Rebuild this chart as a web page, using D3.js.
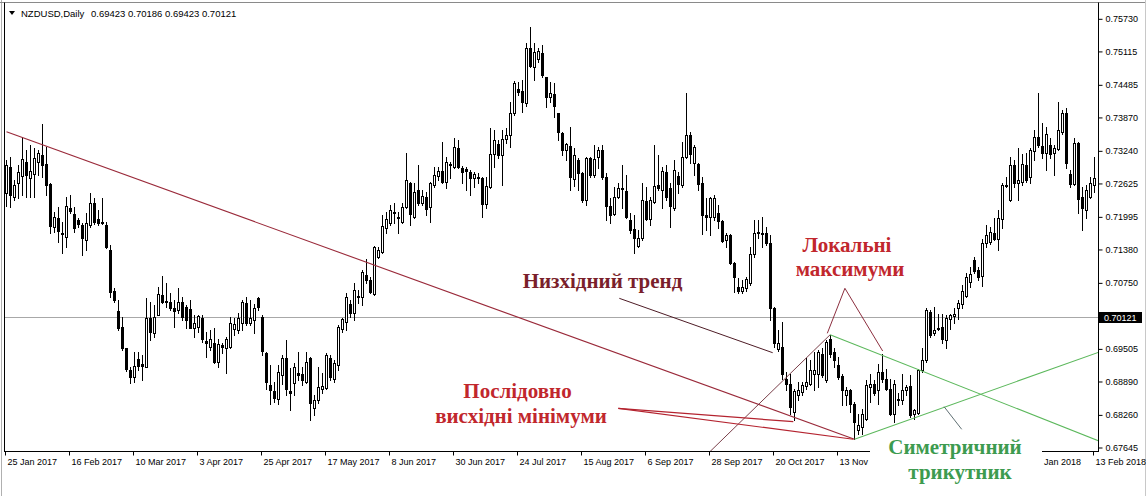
<!DOCTYPE html>
<html><head><meta charset="utf-8">
<script src="https://cdn.jsdelivr.net/npm/d3@7"></script>
<style>html,body{margin:0;padding:0;background:#fff;} svg{display:block}</style>
</head><body>
<svg id="c" width="1146" height="496"></svg>
<script>
// ---------------- data ----------------
const symbolName = "NZDUSD,Daily";
const headerValues = "0.69423 0.70186 0.69423 0.70121";
const lastPrice = 0.70121;

const openV = [
0.72447,0.72950,0.72384,0.72636,0.72774,0.73044,0.72742,0.72812,0.73044,0.73170,
0.73000,0.72617,0.71818,0.71975,0.71705,0.71617,0.72176,0.72051,0.71944,0.71849,
0.71566,0.71849,0.72258,0.71969,0.71912,0.71849,0.71378,0.70604,0.70226,0.69918,
0.69522,0.69113,0.68975,0.69321,0.69220,0.69176,0.70088,0.69818,0.70151,0.70528,
0.70415,0.70390,0.70277,0.70245,0.70403,0.70308,0.70258,0.69912,0.69931,0.70088,
0.69667,0.69553,0.69629,0.69270,0.69585,0.69522,0.69553,0.69880,0.69868,0.69994,
0.70371,0.69994,0.70057,0.70466,0.70119,0.69446,0.68830,0.68717,0.68578,0.69019,
0.69333,0.68724,0.68862,0.69063,0.69038,0.68893,0.69334,0.68390,0.68548,0.68749,
0.68768,0.69346,0.68937,0.69208,0.69881,0.70025,0.70359,0.70195,0.70510,0.70497,
0.70906,0.70812,0.70541,0.71239,0.71345,0.71786,0.71881,0.72088,0.71994,0.71912,
0.72195,0.72636,0.72007,0.72510,0.72258,0.72372,0.72183,0.72604,0.72774,0.72874,
0.72654,0.73000,0.72938,0.73296,0.72919,0.72906,0.72856,0.72743,0.72749,0.72730,
0.72245,0.72573,0.73189,0.73378,0.73170,0.73466,0.73548,0.73969,0.74416,0.74384,
0.74158,0.75183,0.74837,0.74976,0.75089,0.74636,0.74259,0.74322,0.73956,0.73592,
0.73264,0.73346,0.72711,0.73075,0.72836,0.72321,0.73107,0.72792,0.73126,0.73264,
0.72761,0.72207,0.72050,0.72384,0.72522,0.72490,0.71943,0.71767,0.71459,0.71597,
0.72302,0.71956,0.72289,0.72604,0.72509,0.72849,0.72541,0.72163,0.72779,0.72604,
0.73126,0.73547,0.73025,0.72999,0.72635,0.72037,0.71993,0.71993,0.72069,0.71930,
0.71566,0.71660,0.71126,0.70673,0.70610,0.70654,0.70748,0.71302,0.71723,0.71704,
0.71692,0.71503,0.70276,0.69503,0.69553,0.68955,0.68861,0.68327,0.68641,0.68704,
0.68811,0.68861,0.69038,0.69050,0.69427,0.68924,0.69710,0.69459,0.69207,0.68999,
0.68641,0.68748,0.68484,0.67993,0.68043,0.68201,0.68786,0.68861,0.68748,0.69081,
0.68955,0.68767,0.68295,0.68547,0.68547,0.68735,0.68811,0.68295,0.68306,0.69113,
0.69301,0.70213,0.69805,0.69917,0.69930,0.69679,0.70087,0.70137,0.70294,0.70370,
0.70509,0.70779,0.71188,0.70999,0.70886,0.71503,0.71534,0.71704,0.71578,0.71955,
0.72603,0.72321,0.72981,0.72635,0.72667,0.72981,0.72761,0.73251,0.73503,0.73339,
0.73201,0.73358,0.73201,0.73276,0.73610,0.73956,0.72805,0.72622,0.73402,0.72371,
0.72132,0.72384,0.72603];

const highV = [
0.73076,0.73139,0.72698,0.72981,0.73504,0.73265,0.73359,0.73296,0.73265,0.73755,
0.73327,0.72636,0.72101,0.72195,0.71912,0.72384,0.72415,0.72195,0.71975,0.71881,
0.72069,0.72447,0.72352,0.72132,0.72352,0.71912,0.71472,0.70654,0.70434,0.70119,
0.69522,0.69176,0.69459,0.69459,0.69396,0.70466,0.70403,0.70340,0.70686,0.70887,
0.70761,0.70560,0.70434,0.70654,0.70497,0.70340,0.70434,0.70151,0.70151,0.70151,
0.69836,0.69868,0.69899,0.69710,0.69616,0.69742,0.70119,0.70088,0.70182,0.70434,
0.70497,0.70434,0.70359,0.70497,0.70151,0.69459,0.69207,0.68893,0.69207,0.69396,
0.69679,0.69145,0.69239,0.69460,0.69177,0.69460,0.69365,0.68642,0.69177,0.69051,
0.69428,0.69397,0.69302,0.69963,0.70088,0.70560,0.70434,0.70749,0.70623,0.71000,
0.71202,0.70875,0.71453,0.71440,0.72038,0.72101,0.72226,0.72258,0.72101,0.72258,
0.73202,0.72667,0.72636,0.72982,0.72510,0.72479,0.72667,0.72950,0.72950,0.73422,
0.73138,0.73044,0.73485,0.73453,0.72963,0.72950,0.72887,0.72856,0.72824,0.72761,
0.72761,0.73673,0.73642,0.73453,0.73642,0.73673,0.74177,0.74573,0.74554,0.74586,
0.75278,0.75592,0.75278,0.75183,0.75246,0.74649,0.74554,0.74523,0.73969,0.73610,
0.73390,0.73704,0.73296,0.73107,0.72855,0.73138,0.73138,0.73358,0.73327,0.73358,
0.72824,0.72352,0.72572,0.72635,0.72981,0.72792,0.72069,0.72037,0.71755,0.72635,
0.72572,0.72384,0.73358,0.73170,0.72950,0.72981,0.72635,0.73075,0.72855,0.73421,
0.74333,0.73610,0.73358,0.73012,0.72761,0.72352,0.72384,0.72415,0.72226,0.71943,
0.71692,0.71679,0.71157,0.70843,0.70811,0.70874,0.71440,0.71943,0.71943,0.72006,
0.71817,0.71660,0.70308,0.69867,0.70025,0.69081,0.69050,0.68767,0.68893,0.68893,
0.69333,0.69302,0.69459,0.69490,0.69522,0.69679,0.69773,0.69522,0.69364,0.69050,
0.68798,0.68767,0.68515,0.68295,0.68389,0.68924,0.69050,0.68924,0.69238,0.69427,
0.69144,0.68955,0.68924,0.68673,0.69050,0.68830,0.69018,0.68389,0.69144,0.69522,
0.70276,0.70245,0.70308,0.70181,0.70181,0.70150,0.70181,0.70276,0.70432,0.70717,
0.70949,0.71062,0.71251,0.71062,0.71578,0.71849,0.71817,0.71974,0.72132,0.72635,
0.72761,0.73138,0.73075,0.73296,0.73189,0.73201,0.73296,0.73641,0.74346,0.73767,
0.73704,0.73484,0.73358,0.74176,0.74019,0.74050,0.72886,0.73484,0.73421,0.72572,
0.72603,0.72748,0.73126];

const lowV = [
0.72208,0.72195,0.72321,0.72352,0.72415,0.72384,0.72384,0.72384,0.72793,0.72761,
0.72415,0.71705,0.71724,0.71535,0.71327,0.71440,0.72082,0.71724,0.71818,0.71283,
0.71378,0.71818,0.71868,0.71849,0.71868,0.71409,0.70497,0.70403,0.69868,0.69490,
0.69101,0.68874,0.68893,0.69113,0.68924,0.69176,0.69679,0.69742,0.70151,0.70371,
0.70308,0.70245,0.69931,0.70182,0.70057,0.69899,0.69899,0.69742,0.69836,0.69648,
0.69365,0.69490,0.69239,0.69176,0.69428,0.69063,0.69522,0.69774,0.69805,0.69868,
0.69962,0.69962,0.69805,0.70245,0.69396,0.68767,0.68472,0.68516,0.68484,0.68861,
0.68641,0.68359,0.68642,0.68925,0.68830,0.68862,0.68170,0.68264,0.68485,0.68673,
0.68749,0.68925,0.68893,0.69114,0.69837,0.69868,0.70120,0.70057,0.70371,0.70340,
0.70749,0.70560,0.70529,0.71220,0.71314,0.71692,0.71849,0.71881,0.71692,0.71881,
0.72164,0.71849,0.71975,0.72227,0.72227,0.72038,0.71912,0.72573,0.72699,0.72636,
0.72541,0.72730,0.72919,0.72919,0.72636,0.72510,0.72416,0.72573,0.72636,0.72007,
0.72164,0.72541,0.72950,0.73107,0.72604,0.73391,0.73328,0.73925,0.74303,0.73988,
0.74095,0.74837,0.74586,0.74932,0.74649,0.74083,0.74177,0.73894,0.73453,0.73170,
0.73076,0.72509,0.72585,0.72509,0.72289,0.72226,0.72761,0.72761,0.72918,0.72711,
0.71943,0.71893,0.72037,0.72352,0.72163,0.71975,0.71692,0.71314,0.71440,0.71566,
0.71943,0.71849,0.72258,0.72509,0.72163,0.72321,0.71817,0.72132,0.72446,0.72572,
0.73107,0.73012,0.72792,0.72509,0.71679,0.71755,0.71660,0.71943,0.71786,0.71534,
0.71440,0.71113,0.70591,0.70559,0.70559,0.70610,0.70717,0.71251,0.71597,0.71440,
0.71471,0.70057,0.69553,0.69478,0.68955,0.68735,0.68295,0.68169,0.68547,0.68641,
0.68767,0.68830,0.68748,0.68798,0.68987,0.68893,0.69364,0.69176,0.68955,0.68452,
0.68452,0.68327,0.67823,0.67918,0.67918,0.68169,0.68515,0.68641,0.68484,0.68893,
0.68735,0.68263,0.68138,0.68452,0.68484,0.68641,0.68232,0.68201,0.68295,0.69081,
0.69270,0.69742,0.69773,0.69867,0.69616,0.69522,0.69898,0.70005,0.70087,0.70276,
0.70497,0.70685,0.70937,0.70811,0.70698,0.71440,0.71490,0.71566,0.71377,0.71786,
0.72572,0.72308,0.72572,0.72321,0.72603,0.72667,0.72635,0.73075,0.73327,0.73107,
0.72886,0.73107,0.72792,0.73264,0.73566,0.72918,0.72572,0.72603,0.72069,0.71754,
0.71974,0.72352,0.72478];

const closeV = [
0.72981,0.72415,0.72604,0.72856,0.73088,0.72793,0.72868,0.73107,0.73214,0.72981,
0.72604,0.71830,0.71994,0.71742,0.71673,0.72208,0.72120,0.71786,0.71868,0.71598,
0.71881,0.72271,0.71912,0.71893,0.71893,0.71440,0.70591,0.70434,0.69899,0.69522,
0.69126,0.68987,0.69195,0.69195,0.69195,0.70088,0.69836,0.70119,0.70541,0.70390,
0.70396,0.70277,0.70226,0.70403,0.70119,0.70057,0.69912,0.69994,0.70132,0.69692,
0.69616,0.69692,0.69270,0.69604,0.69553,0.69692,0.69994,0.69981,0.70088,0.70403,
0.70006,0.70088,0.70277,0.70308,0.69478,0.68893,0.68736,0.68597,0.69082,0.69333,
0.68767,0.68673,0.69177,0.69019,0.68925,0.69271,0.68485,0.68548,0.68799,0.68818,
0.69397,0.68975,0.69239,0.69931,0.70069,0.70485,0.70195,0.70623,0.70485,0.70969,
0.70812,0.70592,0.71427,0.71377,0.71830,0.71956,0.72132,0.72069,0.71975,0.72183,
0.72699,0.72051,0.72479,0.72258,0.72397,0.72145,0.72636,0.72793,0.72874,0.72667,
0.73044,0.72975,0.73328,0.72938,0.72843,0.72874,0.72730,0.72812,0.72730,0.72245,
0.72585,0.73189,0.73453,0.73170,0.73472,0.73548,0.73969,0.74523,0.74366,0.74177,
0.75183,0.74850,0.75120,0.75139,0.74680,0.74271,0.74334,0.74095,0.73610,0.73264,
0.73378,0.72761,0.73170,0.72824,0.72321,0.73107,0.72792,0.73088,0.73264,0.72761,
0.72207,0.72037,0.72371,0.72541,0.72541,0.72006,0.71755,0.71597,0.71597,0.72321,
0.71956,0.72321,0.72585,0.72541,0.72874,0.72371,0.72207,0.72887,0.72622,0.73138,
0.73547,0.73189,0.73327,0.72622,0.72037,0.71993,0.72352,0.72352,0.71930,0.71553,
0.71660,0.71126,0.70862,0.70610,0.70685,0.70824,0.71302,0.71704,0.71692,0.71679,
0.71503,0.70276,0.69616,0.69616,0.69050,0.68861,0.68421,0.68723,0.68735,0.68830,
0.68893,0.69113,0.69113,0.69459,0.69018,0.69647,0.69427,0.69301,0.68987,0.68748,
0.68735,0.68471,0.68138,0.68075,0.68295,0.68830,0.68861,0.68685,0.69081,0.68955,
0.68767,0.68295,0.68861,0.68578,0.68735,0.68786,0.68263,0.68358,0.69113,0.69301,
0.70245,0.69773,0.69867,0.69898,0.69710,0.70105,0.70162,0.70181,0.70382,0.70603,
0.70861,0.70924,0.70987,0.70874,0.71516,0.71660,0.71723,0.71578,0.71974,0.72603,
0.72585,0.72981,0.72648,0.72698,0.73000,0.72698,0.73264,0.73503,0.73358,0.73213,
0.73566,0.73189,0.73296,0.73641,0.73956,0.73025,0.72622,0.73390,0.72333,0.72163,
0.72509,0.72635,0.72729];

// x-axis tick labels (bar index of each label); the two December labels are hidden
// behind the annotation box in the reference, so only the visible ones are listed
const dateTickIdx = [0,16,32,48,64,80,96,112,128,144,160,176,192,208,256,272];
const dateTickLabels = ["25 Jan 2017","16 Feb 2017","10 Mar 2017","3 Apr 2017","25 Apr 2017",
  "17 May 2017","8 Jun 2017","30 Jun 2017","24 Jul 2017","15 Aug 2017","6 Sep 2017",
  "28 Sep 2017","20 Oct 2017","13 Nov 2017","22 Jan 2018","13 Feb 2018"];
const priceTicks = [0.75730,0.75115,0.74485,0.73870,0.73240,0.72625,0.71995,0.71380,0.70750,
  0.69505,0.68890,0.68260,0.67645];

// annotation anchors: [bar index, price]
const trendLine      = [[0,0.7361],[212,0.6781]];
const risingLine     = [[175.5,0.6755],[205.9,0.6978]];
const triUpper       = [[205.9,0.6978],[273,0.67781]];
const triLower       = [[212,0.6781],[273,0.6945]];
const triLabelPtr    = [[234.4,0.68424],[238.8,0.67998]];
const downPtr        = [[153.2,0.70468],[191.55,0.69442]];
const maxPtrA        = [[209.6,0.70657],[205.2,0.69808]];
const maxPtrB        = [[209.6,0.70657],[219.05,0.69474]];
const minPtrA        = [[152.95,0.68394],[196.7,0.68141]];
const minPtrB        = [[152.95,0.68394],[211.7,0.6781]];

// ---------------- drawing ----------------
const svg = d3.select("#c");
const FONT = "'Liberation Sans', Arial, sans-serif";
const SERIF = "'Liberation Serif', 'Times New Roman', serif";

const x = d3.scaleLinear().domain([0, 272]).range([6.5, 1094.5]);
const y = d3.scaleLinear().domain([0.67645, 0.75730]).range([448, 19.3]);

svg.append("rect").attr("width",1146).attr("height",496).attr("fill","#fff");

svg.append("defs").append("clipPath").attr("id","clip")
  .append("rect").attr("x",5).attr("y",3).attr("width",1093).attr("height",448);

// current price line
svg.append("line").attr("x1",5).attr("x2",1098).attr("y1",Math.round(y(lastPrice))+0.5).attr("y2",Math.round(y(lastPrice))+0.5)
  .attr("stroke","#a8a8a8").attr("stroke-width",1);

const bars = openV.map((o,i)=>({i,o,h:highV[i],l:lowV[i],c:closeV[i]}));
const cg = svg.append("g").attr("clip-path","url(#clip)");
cg.selectAll("line.wick").data(bars).join("line").attr("class","wick")
  .attr("x1",d=>x(d.i)).attr("x2",d=>x(d.i))
  .attr("y1",d=>Math.round(y(d.h))).attr("y2",d=>Math.round(y(d.l))+1)
  .attr("stroke","#000").attr("stroke-width",1);
cg.selectAll("rect.body").data(bars).join("rect").attr("class","body")
  .attr("x",d=>x(d.i)-1).attr("width",2)
  .attr("y",d=>Math.round(y(Math.max(d.o,d.c)))+0.5)
  .attr("height",d=>Math.max(1, Math.round(y(Math.min(d.o,d.c))) - Math.round(y(Math.max(d.o,d.c)))))
  .attr("fill",d=>d.c>=d.o?"#fff":"#000").attr("stroke","#000").attr("stroke-width",1);

// annotation lines
const line = d3.line().x(d=>x(d[0])).y(d=>y(d[1]));
const ag = svg.append("g").attr("clip-path","url(#clip)").attr("fill","none");
function seg(pts,color,w){ ag.append("path").attr("d",line(pts)).attr("stroke",color).attr("stroke-width",w||1); }
seg(trendLine,"#9a2a3a",1.1);
seg(risingLine,"#6b2a36",0.9);
seg(triUpper,"#5cb85c",1.1);
seg(triLower,"#5cb85c",1.1);
seg(triLabelPtr,"#4d5f63",0.9);
seg(downPtr,"#4e1c26",1);
seg(maxPtrA,"#8c2f3f",1);
seg(maxPtrB,"#8c2f3f",1);
seg(minPtrA,"#b4232f",1.2);
seg(minPtrB,"#b4232f",1.2);

// frame
svg.append("line").attr("x1",1.5).attr("x2",1.5).attr("y1",0).attr("y2",496).attr("stroke","#b0b0b0");
svg.append("line").attr("x1",0).attr("x2",1146).attr("y1",2.5).attr("y2",2.5).attr("stroke","#8a8a8a");
svg.append("line").attr("x1",4.5).attr("x2",4.5).attr("y1",2.5).attr("y2",452).attr("stroke","#000");
svg.append("line").attr("x1",1098.5).attr("x2",1098.5).attr("y1",2.5).attr("y2",452).attr("stroke","#000");
svg.append("line").attr("x1",4.5).attr("x2",1098.5).attr("y1",451.5).attr("y2",451.5).attr("stroke","#000");
svg.append("line").attr("x1",1145.5).attr("x2",1145.5).attr("y1",0).attr("y2",496).attr("stroke","#c8c8c8");

// price axis
const yAxis = d3.axisRight(y).tickValues(priceTicks).tickSize(4).tickPadding(3)
  .tickFormat(d3.format(".5f")).offset(0);
const ya = svg.append("g").attr("transform","translate(1098.5,0)").call(yAxis);
ya.select(".domain").remove();
ya.attr("font-family",FONT).attr("font-size",9);
ya.selectAll("text").attr("fill","#000");
ya.selectAll("line").attr("stroke","#000");

// date axis
const xAxis = d3.axisBottom(x).tickValues(dateTickIdx).tickSize(4).tickPadding(3)
  .tickFormat((d,k)=>dateTickLabels[k]).offset(0);
const xa = svg.append("g").attr("transform","translate(-1,451.5)").call(xAxis);
xa.select(".domain").remove();
xa.attr("font-family",FONT).attr("font-size",9);
xa.selectAll("text").attr("text-anchor","start").attr("x",2).attr("fill","#000");
xa.selectAll("line").attr("stroke","#000");

// current price label
const py = y(lastPrice);
svg.append("rect").attr("x",1099).attr("y",Math.round(py)-5).attr("width",43).attr("height",11).attr("fill","#000");
svg.append("text").attr("x",1104).attr("y",Math.round(py)+0.5).attr("dy","0.35em")
  .attr("font-family",FONT).attr("font-size",9).attr("fill","#fff").text(d3.format(".5f")(lastPrice));

// header
svg.append("path").attr("d","M9,11 L15,11 L12,15 Z").attr("fill","#000");
svg.append("text").attr("x",21).attr("y",17).attr("font-family",FONT).attr("font-size",9.5).attr("fill","#000").text(symbolName);
svg.append("text").attr("x",91).attr("y",17).attr("font-family",FONT).attr("font-size",9.5).attr("fill","#000").text(headerValues);

// white box behind the green label
svg.append("rect").attr("x",870).attr("y",437).attr("width",172).attr("height",59).attr("fill","#fff");

// annotation texts
function label(txt,cx,by,color){
  svg.append("text").attr("x",cx).attr("y",by).attr("text-anchor","middle")
    .attr("font-family",SERIF).attr("font-weight","bold").attr("font-size",21)
    .attr("fill",color).text(txt);
}
label("Низхідний тренд",602.5,287.5,"#7a1f2b");
label("Локальні",847,251.5,"#c1272d");
label("максимуми",850,276,"#c1272d");
label("Послідовно",517.5,397.5,"#c1272d");
label("висхідні мінімуми",521,422.5,"#c1272d");
label("Симетричний",955,454,"#3d9b4f");
label("трикутник",960,479,"#3d9b4f");
</script>
</body></html>
